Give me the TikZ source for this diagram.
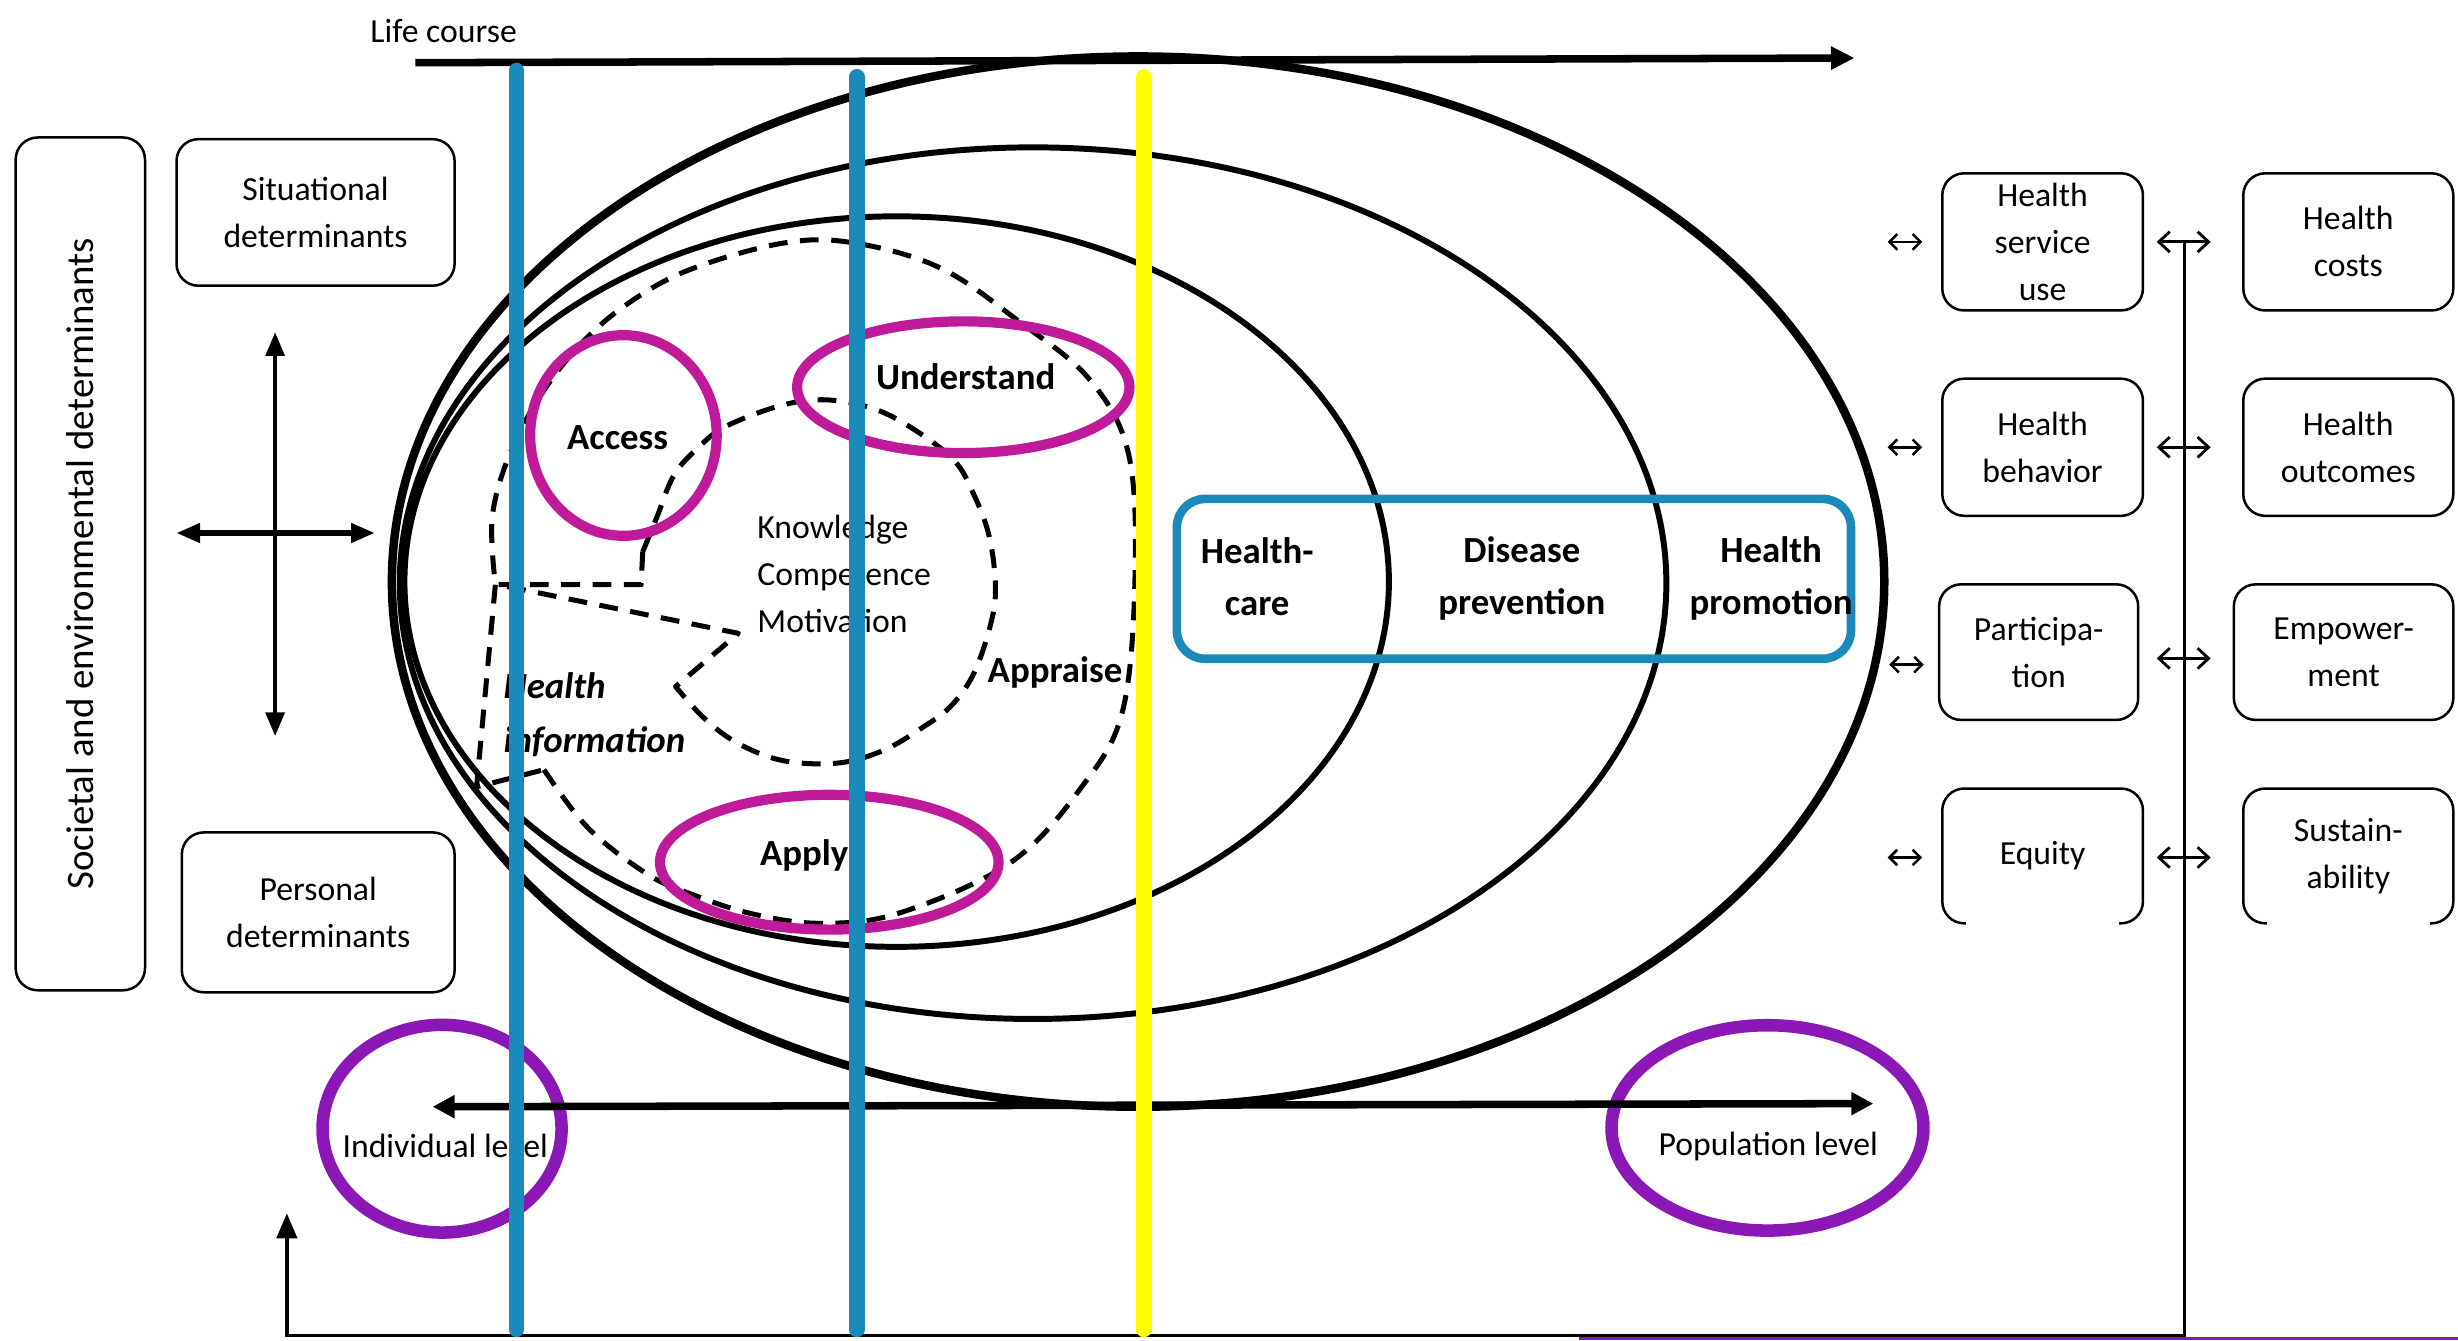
\documentclass[tikz,border=0pt]{standalone}
\usepackage{fontspec}
\setmainfont{Carlito}
\usetikzlibrary{arrows.meta,shapes.geometric,calc}
\definecolor{hlblue}{HTML}{1A8ABB}
\definecolor{hlmag}{HTML}{BF1A99}
\definecolor{hlpurp}{HTML}{8B17B6}
\definecolor{hlyel}{HTML}{FFFF00}
\begin{document}
\begin{tikzpicture}[x=1pt,y=-1pt,
  reg/.style={font=\fontsize{21.5}{30}\selectfont},
  lbl/.style={reg, align=center, inner sep=0pt},
  blbl/.style={font=\fontsize{23.5}{33}\selectfont\bfseries, align=center, inner sep=0pt},
  rbox/.style={draw, line width=1.6pt, rounded corners=14pt, align=center, inner sep=0pt, reg},
  solidell/.style={line width=3.8pt},
  dsh/.style={line width=3.2pt, dash pattern=on 12pt off 8pt, line join=round},
  ring/.style={ellipse, draw=hlmag, line width=6.5pt, inner sep=0pt},
  lvring/.style={ellipse, draw=hlpurp, line width=8pt, inner sep=0pt},
  vline/.style={line width=10pt, line cap=round},
  bigarr/.style={line width=4.8pt, -{Triangle[length=15pt,width=14pt]}},
  twotri/.style={{Triangle[length=15pt,width=12pt]}-{Triangle[length=15pt,width=12pt]}},
  smallarr/.style={line width=1.6pt, {Straight Barb[length=5pt,width=10pt]}-{Straight Barb[length=5pt,width=10pt]}},
  midarr/.style={line width=1.8pt, {Straight Barb[length=7pt,width=13pt]}-{Straight Barb[length=7pt,width=13pt]}},
]
\useasboundingbox (0,0) rectangle (1568,855);
\fill[white] (0,0) rectangle (1568,855);

% nested ellipses
\draw[line width=5.4pt] (726,371) ellipse [x radius=476, y radius=335];
\draw[solidell] (659,372) ellipse [x radius=404, y radius=278];
\draw[solidell] (572,371) ellipse [x radius=314, y radius=233];

% outer dashed region
\draw[dsh] (316,373) -- (304,502) -- (347,491)
  plot[smooth, tension=0.6] coordinates {(347,491) (375,528) (412,557) (440,570) (480,583) (525,589) (575,582) (645,550) (690,502) (716,454) (724,370) (720,290) (695,242) (650,205) (600,171) (545,155) (500,155) (440,172) (400,194) (370,220) (345,252) (325,290) (314,330) (316,373)};
% inner dashed region with wedge
\draw[dsh] (318,373) -- (409,373) -- (410,352)
  plot[smooth, tension=0.6] coordinates {(410,352) (419,330) (430,303) (446,285) (463,272) (497,259) (525,255) (555,260) (580,272) (608,293) (621,315) (631,342) (635,374) (632,398) (621,430) (606,451) (587,465) (565,478) (540,486) (514,487) (491,483) (467,472) (448,457) (431,438)}
  -- (471,404) -- (318,373);

% magenta rings
\node[ring, minimum width=119pt, minimum height=128pt] (accR) at (397.7,277.8) {};
\node[ring, minimum width=212pt, minimum height=84pt] (undR) at (614.5,247) {};
\node[ring, minimum width=216pt, minimum height=86pt] (appR) at (529,550) {};

% inner labels
\node[blbl] (acc) at (394,279) {Access};
\node[blbl] (und) at (616,240) {Understand};
\node[blbl] (app) at (513,546) {Apply};
\node[blbl] (apr) at (673,429) {Appraise};
\node[font=\fontsize{23.5}{34}\selectfont\bfseries\itshape, align=left, inner sep=0pt, anchor=west] (hinf) at (321,456) {Health\\information};
\node[reg, align=left, inner sep=0pt, anchor=west] (kcm) at (483,366) {Knowledge\\Competence\\Motivation};

% blue rectangle with domains
\node[draw=hlblue, line width=5.5pt, rounded corners=18pt, minimum width=430pt, minimum height=102pt, inner sep=0pt] (hrect) at (965.75,369.25) {};
\node[blbl] (hcare) at (802,368) {Health-\\care};
\node[blbl] (dprev) at (970.8,369) {Disease\\prevention};
\node[blbl] (hprom) at (1129.8,369) {Health\\promotion};

% levels
\node[lvring, minimum width=152.5pt, minimum height=132.5pt] (indR) at (282,720) {};
\node[lvring, minimum width=199pt, minimum height=131pt] (popR) at (1127.5,719.5) {};
\node[lbl] (ind) at (284,731) {Individual level};
\node[lbl] (pop) at (1128,731.5) {Population level};
\coordinate (lvL) at (276,706);
\coordinate (lvR) at (1195,704);
\draw[line width=4.8pt, {Triangle[length=14pt,width=14pt]}-{Triangle[length=14pt,width=14pt]}] (lvL) -- (lvR);

% life course
\coordinate (lcA) at (265,40);
\coordinate (lcB) at (1183,37);
\draw[bigarr] (lcA) -- (lcB);
\node[lbl] (lct) at (283,20) {Life course};

% left boxes
\node[rbox, rotate=90, minimum width=544pt, minimum height=82.5pt, font=\fontsize{24.8}{30}\selectfont] (soc) at (51.25,359.7) {Societal and environmental determinants};
\node[rbox, minimum width=177.4pt, minimum height=93.5pt] (sit) at (201.3,135.5) {Situational\\determinants};
\node[rbox, minimum width=174pt, minimum height=102pt] (per) at (203,582) {Personal\\determinants};

% cross arrows
\coordinate (crT) at (175.5,212);
\coordinate (crB) at (175.5,469.5);
\coordinate (crL) at (112.6,340);
\coordinate (crR) at (239,340);
\draw[line width=2.2pt, twotri] (crT) -- (crB);
\draw[line width=3.2pt, twotri] (crL) -- (crR);

% right boxes
\node[rbox, minimum width=128pt, minimum height=87.5pt] (hsu) at (1303,154.3) {Health\\service\\use};
\node[rbox, minimum width=128pt, minimum height=87.5pt] (hbe) at (1303,285.3) {Health\\behavior};
\node[rbox, minimum width=127pt, minimum height=86.5pt] (par) at (1300.5,416) {Participa-\\tion};
\node[rbox, minimum width=128pt, minimum height=86pt] (equ) at (1303,546) {Equity};
\node[rbox, minimum width=134pt, minimum height=87.5pt] (hco) at (1498,154.3) {Health\\costs};
\node[rbox, minimum width=134pt, minimum height=87.5pt] (hou) at (1498,285.3) {Health\\outcomes};
\node[rbox, minimum width=140pt, minimum height=86.5pt] (emp) at (1495,416) {Empower-\\ment};
\node[rbox, minimum width=134pt, minimum height=86pt] (sus) at (1498,546) {Sustain-\\ability};
\draw[white, line width=3.5pt] ([xshift=16pt]equ.south west) -- ([xshift=-16pt]equ.south east);
\draw[white, line width=3.5pt] ([xshift=16pt]sus.south west) -- ([xshift=-16pt]sus.south east);

% feedback line
\coordinate (fbT) at (1393.5,154);
\coordinate (fbB) at (1393.5,852);
\coordinate (fbL) at (183,852);
\coordinate (fbU) at (183,774);
\coordinate (puA) at (1007,853.8);
\coordinate (puB) at (1568,853.8);
\draw[hlpurp, line width=2pt] (puA) -- (puB);
\draw[line width=2.2pt, line join=miter, -{Triangle[length=16pt,width=13pt]}] (fbT) -- (fbB) -- (fbL) -- (fbU);

% small double arrows
\draw[smallarr] ($(hsu.west)+(-34,0)$) -- ($(hsu.west)+(-12,0)$);
\draw[smallarr] ($(hbe.west)+(-34,0)$) -- ($(hbe.west)+(-12,0)$);
\draw[smallarr] ($(par.west)+(-31,8)$) -- ($(par.west)+(-9,8)$);
\draw[smallarr] ($(equ.west)+(-34,1)$) -- ($(equ.west)+(-12,1)$);
\draw[midarr] ($(hsu.east)+(8,0)$) -- ($(hco.west)+(-20,0)$);
\draw[midarr] ($(hbe.east)+(8,0)$) -- ($(hou.west)+(-20,0)$);
\draw[midarr] ($(par.east)+(11,4)$) -- ($(emp.west)+(-14,4)$);
\draw[midarr] ($(equ.east)+(8,1)$) -- ($(sus.west)+(-20,1)$);

% vertical highlight lines
\draw[vline, hlblue] (329.5,45) -- (329.5,848);
\draw[vline, hlblue] (546.5,49) -- (546.5,848);
\draw[vline, hlyel] (729.6,49) -- (729.6,848);
\end{tikzpicture}
\end{document}
